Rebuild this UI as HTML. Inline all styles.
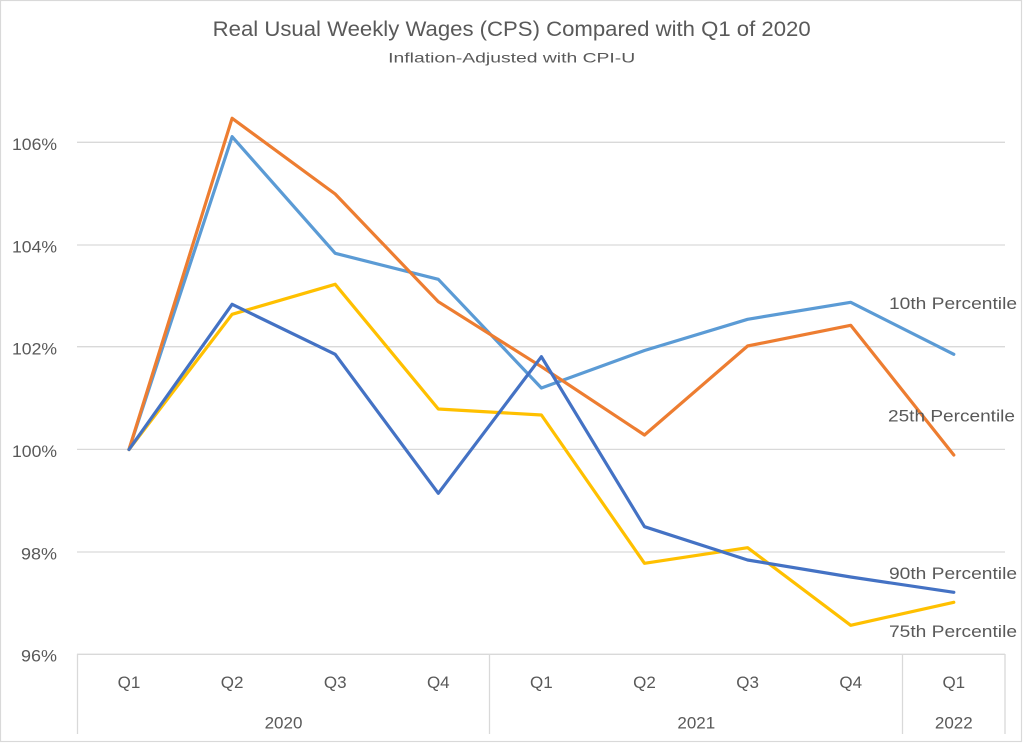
<!DOCTYPE html>
<html>
<head>
<meta charset="utf-8">
<style>
html,body{margin:0;padding:0;background:#fff;}
svg{display:block;}
text{font-family:"Liberation Sans",sans-serif;fill:#595959;}
</style>
</head>
<body>
<svg width="1023" height="743" viewBox="0 0 1023 743" xmlns="http://www.w3.org/2000/svg">
<rect x="0.5" y="0.5" width="1021" height="741" fill="#fff" stroke="#d9d9d9" stroke-width="1.2"/>
<text x="511.7" y="36" font-size="21" text-anchor="middle" textLength="598" lengthAdjust="spacingAndGlyphs">Real Usual Weekly Wages (CPS) Compared with Q1 of 2020</text>
<text x="511.7" y="62.5" font-size="14" text-anchor="middle" textLength="247" lengthAdjust="spacingAndGlyphs">Inflation-Adjusted with CPI-U</text>
<g stroke="#d9d9d9" stroke-width="1.3" fill="none">
<line x1="77" y1="142.3" x2="1005" y2="142.3"/>
<line x1="77" y1="245" x2="1005" y2="245"/>
<line x1="77" y1="346.7" x2="1005" y2="346.7"/>
<line x1="77" y1="449.4" x2="1005" y2="449.4"/>
<line x1="77" y1="552" x2="1005" y2="552"/>
<line x1="77" y1="654.3" x2="1005" y2="654.3"/>
<line x1="77.5" y1="654" x2="77.5" y2="734"/>
<line x1="489.5" y1="654" x2="489.5" y2="734"/>
<line x1="902.5" y1="654" x2="902.5" y2="734"/>
<line x1="1005" y1="654" x2="1005" y2="734"/>
</g>
<g font-size="17" text-anchor="end">
<text x="57" y="150" textLength="45" lengthAdjust="spacingAndGlyphs">106%</text>
<text x="57" y="252.7" textLength="45" lengthAdjust="spacingAndGlyphs">104%</text>
<text x="57" y="354.4" textLength="45" lengthAdjust="spacingAndGlyphs">102%</text>
<text x="57" y="457" textLength="45" lengthAdjust="spacingAndGlyphs">100%</text>
<text x="57" y="559.7" textLength="36" lengthAdjust="spacingAndGlyphs">98%</text>
<text x="57" y="661.5" textLength="36" lengthAdjust="spacingAndGlyphs">96%</text>
</g>
<g font-size="17" text-anchor="middle">
<text x="129" y="688">Q1</text>
<text x="232.1" y="688">Q2</text>
<text x="335.2" y="688">Q3</text>
<text x="438.3" y="688">Q4</text>
<text x="541.4" y="688">Q1</text>
<text x="644.5" y="688">Q2</text>
<text x="747.6" y="688">Q3</text>
<text x="850.7" y="688">Q4</text>
<text x="953.8" y="688">Q1</text>
<text x="283.5" y="728.3">2020</text>
<text x="696.3" y="728.3">2021</text>
<text x="953.8" y="728.3">2022</text>
</g>
<g fill="none" stroke-width="3.2" stroke-linejoin="round" stroke-linecap="round">
<polyline stroke="#5B9BD5" points="129,449.5 232.1,136.7 335.2,253.3 438.3,279.3 541.4,388 644.5,350.5 747.6,319.3 850.7,302.3 953.8,354.3"/>
<polyline stroke="#ED7D31" points="129,449.5 232.1,118.3 335.2,194 438.3,301.7 541.4,366.7 644.5,435 747.6,346 850.7,325.3 953.8,455"/>
<polyline stroke="#FFC000" points="129,449.5 232.1,314.3 335.2,284.3 438.3,409 541.4,415 644.5,563.3 747.6,547.7 850.7,625.3 953.8,602.3"/>
<polyline stroke="#4472C4" points="129,449.5 232.1,304.3 335.2,354.3 438.3,493.3 541.4,356.7 644.5,526.7 747.6,560 850.7,577 953.8,592.3"/>
</g>
<g font-size="17">
<text x="889" y="309" textLength="128" lengthAdjust="spacingAndGlyphs">10th Percentile</text>
<text x="888" y="421.5" textLength="127" lengthAdjust="spacingAndGlyphs">25th Percentile</text>
<text x="889" y="579" textLength="128" lengthAdjust="spacingAndGlyphs">90th Percentile</text>
<text x="889" y="637" textLength="128" lengthAdjust="spacingAndGlyphs">75th Percentile</text>
</g>
</svg>
</body>
</html>
